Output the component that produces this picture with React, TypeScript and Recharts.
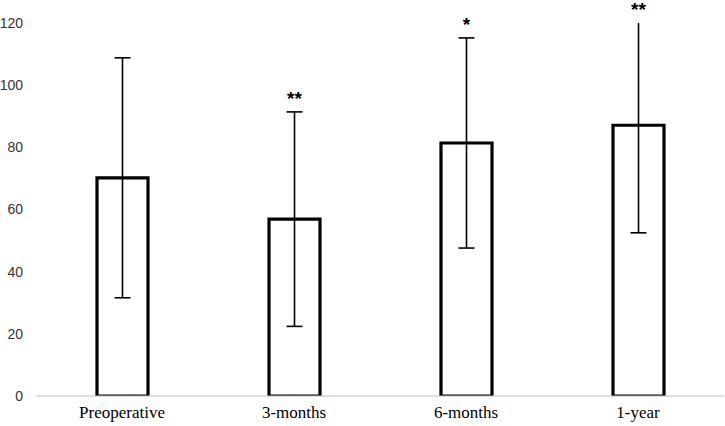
import { BarChart, Bar, XAxis, YAxis, ErrorBar, LabelList } from "recharts";

const categories = ["Preoperative", "3-months", "6-months", "1-year"];
const means = [70.2, 56.9, 81.4, 87.1];
const sds = [38.6, 34.5, 33.8, 34.6];
const marks = ["", "**", "*", "**"];
const yTicks = [0, 20, 40, 60, 80, 100, 120];
const Y_MAX = 120;

const data = categories.map((name, i) => ({
  name,
  mean: means[i],
  sd: sds[i],
  mark: marks[i],
}));

// plot area (matches chart margins below), used to clip the error bars
const PLOT = { x: 36, y: 23, w: 688, h: 373 };

// star sits above the error bar top (or the top of the plot when the bar is clipped)
function StarLabel(props: any) {
  const { x, y, width, height, index } = props;
  const d = data[index];
  if (!d || !d.mark) return null;
  const perUnit = height / d.mean;
  const base = y + height;
  const errTop = base - (d.mean + d.sd) * perUnit;
  const plotTop = base - Y_MAX * perUnit;
  const top = Math.max(errTop, plotTop);
  return (
    <text
      x={x + width / 2}
      y={top - 7}
      textAnchor="middle"
      fontFamily="Liberation Sans, Arial, sans-serif"
      fontWeight="bold"
      fontSize={19}
      fill="#000"
    >
      {d.mark}
    </text>
  );
}

function CategoryTick(props: any) {
  const { x, y, payload } = props;
  return (
    <text
      x={x}
      y={y + 14}
      textAnchor="middle"
      style={{ fontFamily: "'Liberation Serif', 'Times New Roman', serif", fontSize: 17 }}
      fill="#000"
    >
      {payload.value}
    </text>
  );
}

export default function App() {
  return (
    <div style={{ position: "absolute", left: 0, top: 0, width: 725, height: 426, background: "#fff" }}>
      <svg width={0} height={0} style={{ position: "absolute" }}>
        <defs>
          <clipPath id="plotClip" clipPathUnits="userSpaceOnUse">
            <rect x={PLOT.x - 10} y={PLOT.y} width={PLOT.w + 20} height={PLOT.h + 10} />
          </clipPath>
        </defs>
      </svg>
      <BarChart
        width={725}
        height={426}
        data={data}
        margin={{ top: 23, right: 1, left: 6, bottom: 0 }}
      >
        <XAxis
          dataKey="name"
          height={30}
          tickSize={0}
          tickMargin={8}
          axisLine={{ stroke: "#bfbfbf", strokeWidth: 1 }}
          tick={<CategoryTick />}
        />
        <YAxis
          width={30}
          domain={[0, Y_MAX]}
          ticks={yTicks}
          allowDataOverflow
          axisLine={false}
          tickLine={false}
          tickSize={0}
          tickMargin={13}
          tick={{ fontSize: 14, fill: "#333", fontFamily: "Liberation Sans, Arial, sans-serif" }}
        />
        <Bar
          dataKey="mean"
          barSize={51}
          fill="#fff"
          stroke="#000"
          strokeWidth={3.2}
          isAnimationActive={false}
        >
          <ErrorBar
            dataKey="sd"
            width={8}
            stroke="#000"
            strokeWidth={1.6}
            direction="y"
            clipPath="url(#plotClip)"
          />
          <LabelList dataKey="mark" content={StarLabel} />
        </Bar>
      </BarChart>
    </div>
  );
}
